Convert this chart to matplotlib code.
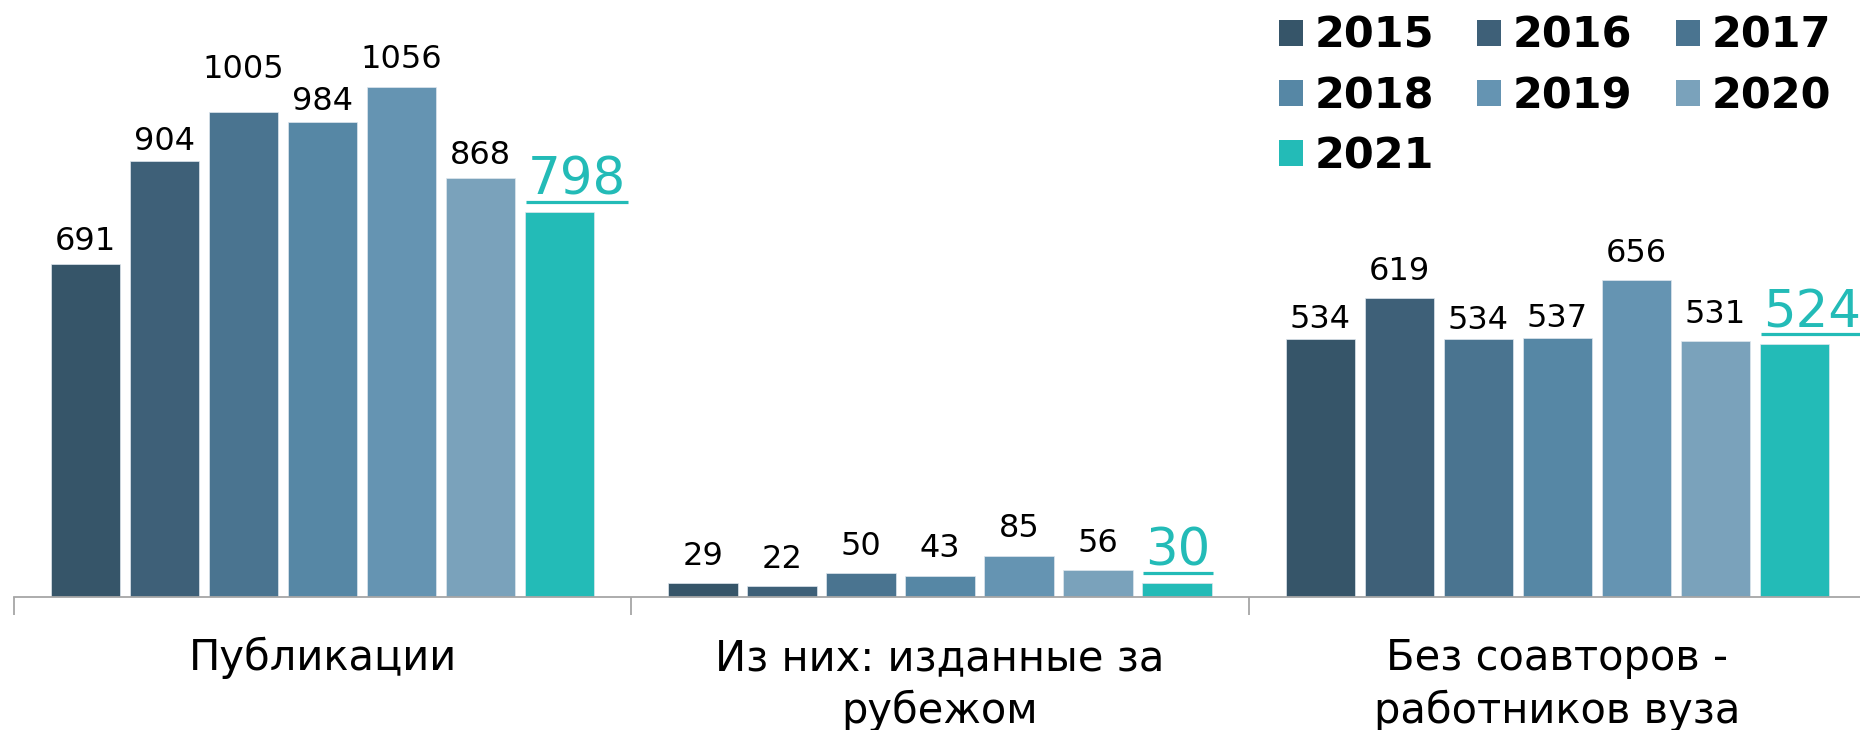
import matplotlib
matplotlib.use("Agg")
import matplotlib.pyplot as plt
from matplotlib.patches import Patch
import numpy as np

categories = ["Публикации", "Из них: изданные за\nрубежом", "Без соавторов -\nработников вуза"]
years = ["2015", "2016", "2017", "2018", "2019", "2020", "2021"]
values = {
    "2015": [691, 29, 534],
    "2016": [904, 22, 619],
    "2017": [1005, 50, 534],
    "2018": [984, 43, 537],
    "2019": [1056, 85, 656],
    "2020": [868, 56, 531],
    "2021": [798, 30, 524],
}
colors = ["#365569", "#3e6078", "#4a7490", "#5687a5", "#6594b2", "#7aa2bb", "#23bbb7"]

# label gaps above bar tops (pixels), as placed in the original
label_gap_px = {
    "2015": [14, 18, 11],
    "2016": [11, 18, 18],
    "2017": [34, 18, 10],
    "2018": [12, 19, 11],
    "2019": [19, 19, 18],
    "2020": [14, 18, 18],
    "2021": [17, 17, 17],
}

PX = 72 / 100  # points per pixel at dpi 100
W, H = 1860, 730
fig = plt.figure(figsize=(W / 100, H / 100), dpi=100)
ax = fig.add_axes([14 / W, 1 - 597 / H, 1852 / W, 579 / H])
ax.set_xlim(-0.5, 2.5)
ax.set_ylim(0, 1200)

pitch = 0.128
bw = 0.112
x = np.arange(len(categories))
bars_by_year = {}
for j, (yr, c) in enumerate(zip(years, colors)):
    pos = x + (j - 3) * pitch
    bars = ax.bar(pos, values[yr], width=bw, color=c, edgecolor="#dfe7ee", linewidth=0.5, zorder=2)
    bars_by_year[yr] = bars

for spine in ["top", "right", "left"]:
    ax.spines[spine].set_visible(False)
ax.spines["bottom"].set_color("#a6a6a6")
ax.spines["bottom"].set_linewidth(1.3)
ax.set_yticks([])
ax.set_xticks([-0.5, 0.5, 1.5, 2.5])
ax.set_xticklabels([])
ax.tick_params(axis="x", length=13, width=1.3, color="#a6a6a6", direction="out")

# value labels
big_texts = []
for yr in years:
    for k, (b, v) in enumerate(zip(bars_by_year[yr], values[yr])):
        gap = label_gap_px[yr][k] * PX
        if yr == "2021":
            t = ax.annotate(str(v), xy=(b.get_x(), v), xytext=(3 * PX, gap), textcoords="offset points",
                            ha="left", va="baseline", fontsize=37, color="#23bbb7",
                            family="DejaVu Sans", annotation_clip=False)
            big_texts.append((t, b, v, label_gap_px[yr][k]))
        else:
            cx = b.get_x() + b.get_width() / 2
            ax.annotate(str(v), xy=(cx, v), xytext=(0, gap), textcoords="offset points",
                        ha="center", va="baseline", fontsize=23, color="black",
                        family="DejaVu Sans")

# category labels
for i, cat in enumerate(categories):
    for k, line in enumerate(cat.split("\n")):
        ax.annotate(line, xy=(x[i], 0), xycoords=("data", "axes fraction"),
                    xytext=(0, -52.5 - k * 38), textcoords="offset points",
                    ha="center", va="baseline", fontsize=30, color="black",
                    family="DejaVu Sans", annotation_clip=False)

# legend (row-wise order)
order = [0, 3, 6, 1, 4, 2, 5]
handles = [Patch(facecolor=colors[i], edgecolor="none") for i in order]
labels = [years[i] for i in order]
fig.legend(handles, labels, ncol=3, loc="upper right", bbox_to_anchor=(1831 / W, 1 - 15 / H),
           frameon=False, prop={"family": "DejaVu Sans", "weight": "bold", "size": 31},
           handlelength=0.56, handleheight=0.56, handletextpad=0.27, columnspacing=1.0,
           labelspacing=0.42, borderaxespad=0.0, borderpad=0.0)

# underline big labels
fig.canvas.draw()
r = fig.canvas.get_renderer()
inv = ax.transData.inverted()
for t, b, v, gap in big_texts:
    bb = t.get_window_extent(r)
    top_disp = ax.transData.transform((0, v))[1]
    y_line = top_disp + gap - 7
    (x0, yl), = inv.transform([(ax.transData.transform((b.get_x(), 0))[0] + 1, y_line)])
    (x1, _), = inv.transform([(bb.x1 + 2, y_line)])
    ax.plot([x0, x1], [yl, yl], color="#23bbb7", lw=2.3, clip_on=False, solid_capstyle="butt")

fig.savefig("out.png", dpi=100)
